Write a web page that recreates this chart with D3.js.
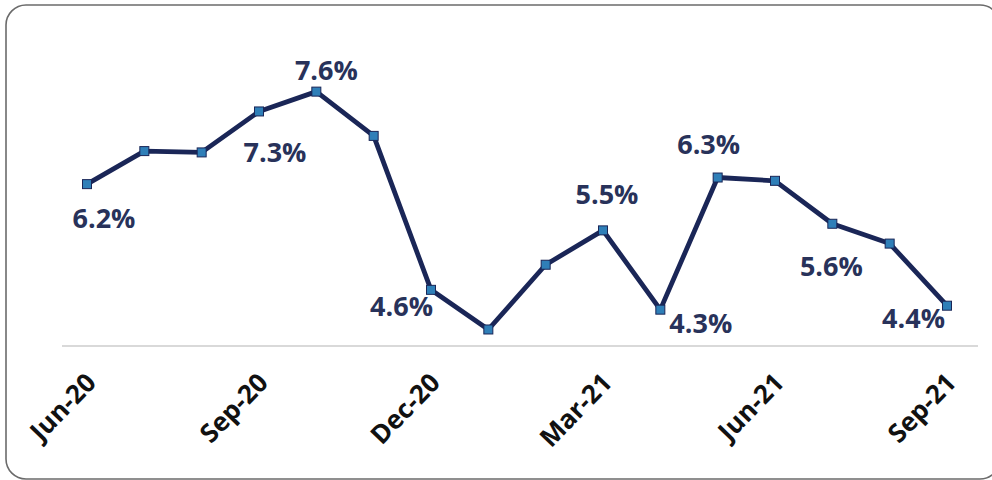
<!DOCTYPE html>
<html>
<head>
<meta charset="utf-8">
<script src="https://cdn.jsdelivr.net/npm/d3@7"></script>
<style>
  html, body { margin: 0; padding: 0; background: #ffffff; }
  svg { display: block; }
</style>
</head>
<body>
<svg id="chart" width="992" height="480"></svg>
<script>
// ---- data ----
const months = ["Jun-20","Jul-20","Aug-20","Sep-20","Oct-20","Nov-20","Dec-20","Jan-21",
                "Feb-21","Mar-21","Apr-21","May-21","Jun-21","Jul-21","Aug-21","Sep-21"];
const values = [6.2, 6.7, 6.68, 7.3, 7.6, 6.93, 4.6, 4.0, 4.98, 5.5, 4.3, 6.3, 6.25, 5.6, 5.3, 4.36];
const tickLabels = ["Jun-20","Sep-20","Dec-20","Mar-21","Jun-21","Sep-21"];
const labelledMonths = ["Jun-20","Sep-20","Oct-20","Dec-20","Mar-21","Apr-21","May-21","Jul-21","Sep-21"];

// ---- layout ----
const svg = d3.select("#chart");

// frame
svg.append("rect")
  .attr("x", 6).attr("y", 5)
  .attr("width", 994).attr("height", 474)
  .attr("rx", 20).attr("ry", 20)
  .attr("fill", "#ffffff")
  .attr("stroke", "#6b6b6b")
  .attr("stroke-width", 1.6);

const x = d3.scalePoint().domain(months).range([87, 947]);
const y = d3.scaleLinear().domain([3.75, 8.0]).range([346, 65.2]);

// baseline axis
const xAxis = d3.axisBottom(x)
  .tickValues(tickLabels)
  .tickSize(0)
  .tickPadding(0);

const axisG = svg.append("g")
  .attr("transform", `translate(0,${y(3.75)})`)
  .call(xAxis);
axisG.select(".domain").remove();
axisG.append("line")
  .attr("x1", 62).attr("x2", 978)
  .attr("y1", 0).attr("y2", 0)
  .attr("stroke", "#d9d9d9")
  .attr("stroke-width", 2);

axisG.selectAll(".tick text")
  .attr("fill", "#111111")
  .attr("font-family", "'Open Sans', sans-serif")
  .attr("font-weight", "700")
  .attr("font-size", "26px")
  .attr("text-anchor", "end")
  .attr("dy", null)
  .attr("y", 0)
  .attr("transform", "translate(10,38) rotate(-46)");

// line
const pts = months.map((m, i) => ({ m, v: values[i] }));
const line = d3.line().x(d => x(d.m)).y(d => y(d.v));

svg.append("path")
  .datum(pts)
  .attr("d", line)
  .attr("fill", "none")
  .attr("stroke", "#1a2657")
  .attr("stroke-width", 4.8)
  .attr("stroke-linejoin", "round");

// markers
svg.selectAll("rect.mk")
  .data(pts)
  .enter().append("rect")
  .attr("class", "mk")
  .attr("x", d => x(d.m) - 4.5)
  .attr("y", d => y(d.v) - 4.5)
  .attr("width", 9).attr("height", 9)
  .attr("fill", "#2f7fb8")
  .attr("stroke", "#1a2657")
  .attr("stroke-width", 1);

// data labels
const place = {
  "Jun-20": { dx: 17, dy: 44, anchor: "middle" },
  "Sep-20": { dx: 16, dy: 51, anchor: "middle" },
  "Oct-20": { dx: 10, dy: -12, anchor: "middle" },
  "Dec-20": { dx: 2, dy: 26, anchor: "end" },
  "Mar-21": { dx: 4, dy: -26, anchor: "middle" },
  "Apr-21": { dx: 9, dy: 23, anchor: "start" },
  "May-21": { dx: -9, dy: -24, anchor: "middle" },
  "Jul-21": { dx: -1, dy: 52, anchor: "middle" },
  "Sep-21": { dx: -2, dy: 22, anchor: "end" }
};

svg.selectAll("text.lbl")
  .data(pts.filter(d => labelledMonths.includes(d.m)))
  .enter().append("text")
  .attr("class", "lbl")
  .attr("x", d => x(d.m) + place[d.m].dx)
  .attr("y", d => y(d.v) + place[d.m].dy)
  .attr("text-anchor", d => place[d.m].anchor)
  .attr("fill", "#28325a")
  .attr("font-family", "'Open Sans', sans-serif")
  .attr("font-weight", "700")
  .attr("font-size", "27px")
  .text(d => d3.format(".1f")(d.v) + "%");
</script>
</body>
</html>
